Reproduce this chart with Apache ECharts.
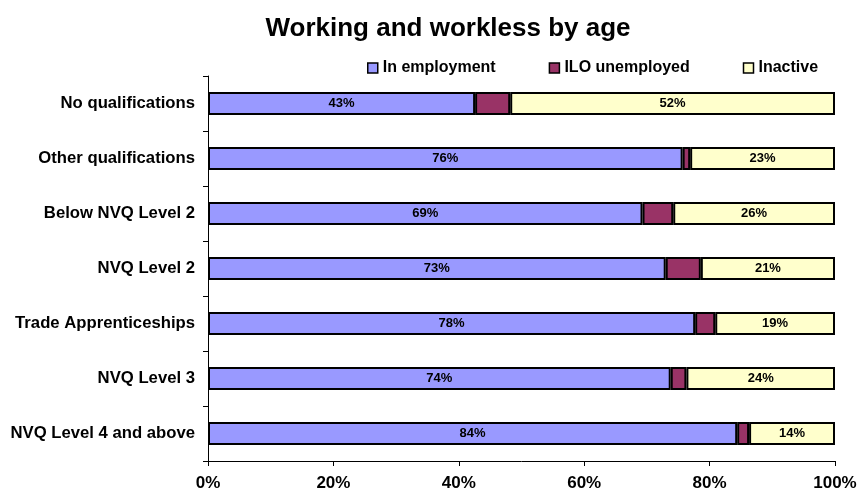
<!DOCTYPE html>
<html>
<head>
<meta charset="utf-8">
<script src="https://cdn.jsdelivr.net/npm/echarts@6/dist/echarts.min.js"></script>
<style>
  html, body { margin: 0; padding: 0; background: #fff; }
  #chart { width: 857px; height: 493px; }
</style>
</head>
<body>
<div id="chart"></div>
<script>
const categories = [
    "No qualifications",
    "Other qualifications",
    "Below NVQ Level 2",
    "NVQ Level 2",
    "Trade Apprenticeships",
    "NVQ Level 3",
    "NVQ Level 4 and above",
];
const inEmployment = [42.6, 75.7, 69.3, 73.0, 77.7, 73.8, 84.4];
const iloUnemployed = [5.6, 1.2, 4.9, 5.6, 3.2, 2.5, 1.9];
const inactive = [51.8, 23.1, 25.8, 21.4, 19.1, 23.7, 13.7];
const xTicks = [0, 20, 40, 60, 80, 100];

const font = "Liberation Sans, Arial, sans-serif";
const colors = ["#9999FF", "#993366", "#FFFFCC"];

const pctLabel = {
    show: true,
    position: "inside",
    color: "#000",
    fontFamily: font,
    fontWeight: "bold",
    fontSize: 13,
    formatter: (p) => Math.round(p.value) + "%",
};

const makeSeries = (name, data, label) => ({
    name: name,
    type: "bar",
    stack: "total",
    barWidth: 23,
    data: data,
    label: label ? pctLabel : { show: false },
    itemStyle: { borderColor: "#000", borderWidth: 2 },
    emphasis: { disabled: true },
});

const chart = echarts.init(document.getElementById("chart"));
chart.setOption({
    animation: false,
    color: colors,
    title: {
        text: "Working and workless by age",
        left: 443,
        textAlign: "center",
        top: 11,
        textStyle: { fontFamily: font, fontWeight: "bold", fontSize: 26, color: "#000" },
    },
    legend: {
        top: 60,
        left: 367,
        padding: 0,
        itemWidth: 10,
        itemHeight: 10,
        itemGap: 53,
        icon: "rect",
        itemStyle: { borderColor: "#000", borderWidth: 1.5 },
        textStyle: { fontFamily: font, fontWeight: "bold", fontSize: 16, color: "#000" },
        data: ["In employment", "ILO unemployed", "Inactive"],
    },
    grid: {
        left: 208,
        right: 22,
        top: 76,
        bottom: 32,
        containLabel: false,
        outerBoundsMode: "none",
    },
    xAxis: {
        type: "value",
        min: xTicks[0],
        max: xTicks[xTicks.length - 1],
        interval: 20,
        splitLine: { show: false },
        axisLine: { show: true, lineStyle: { color: "#000", width: 1 } },
        axisTick: { show: true, length: 5, lineStyle: { color: "#000" } },
        axisLabel: {
            formatter: "{value}%",
            margin: 14,
            color: "#000",
            fontFamily: font,
            fontWeight: "bold",
            fontSize: 17,
        },
    },
    yAxis: {
        type: "category",
        inverse: true,
        data: categories,
        axisLine: { show: true, lineStyle: { color: "#000", width: 1 } },
        axisTick: { show: true, length: 5, lineStyle: { color: "#000" } },
        axisLabel: {
            margin: 13,
            color: "#000",
            fontFamily: font,
            fontWeight: "bold",
            fontSize: 16.7,
        },
    },
    series: [
        makeSeries("In employment", inEmployment, true),
        makeSeries("ILO unemployed", iloUnemployed, false),
        makeSeries("Inactive", inactive, true),
    ],
});
</script>
</body>
</html>
